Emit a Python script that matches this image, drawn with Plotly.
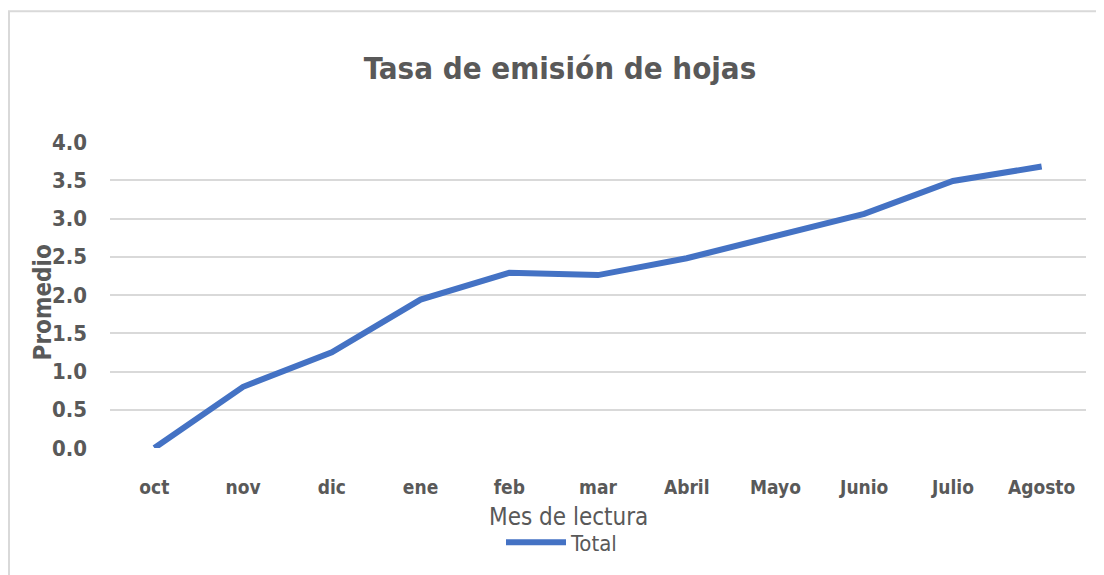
import plotly.graph_objects as go

months = ["oct", "nov", "dic", "ene", "feb", "mar", "Abril", "Mayo", "Junio", "Julio", "Agosto"]
promedio = [0.0, 0.80, 1.25, 1.94, 2.29, 2.26, 2.48, 2.78, 3.06, 3.49, 3.68]
y_ticks = [0.0, 0.5, 1.0, 1.5, 2.0, 2.5, 3.0, 3.5, 4.0]

OFF = 8  # browser default body margin
W, H = 1104 - OFF, 575 - OFF
L, R, T, B = 110 - OFF, 18, 142 - OFF, 122
pw, ph = W - L - R, H - T - B

def px_x(x):
    return (x - OFF - L) / pw

def px_y(y):
    return (H - B - (y - OFF)) / ph

FONT = "Liberation Sans Narrow, DejaVu Sans Condensed, Open Sans"
GRAY = "#595959"

fig = go.Figure()
fig.add_trace(go.Scatter(
    x=months, y=promedio, mode="lines", name="Total",
    line=dict(color="#4472C4", width=6),
))

fig.update_layout(
    width=W, height=H,
    margin=dict(l=L, r=R, t=T, b=B),
    paper_bgcolor="white", plot_bgcolor="white",
    font=dict(family=FONT, color=GRAY),
    title=dict(text="Tasa de emisión de hojas", x=px_x(560), xanchor="center",
               xref="paper", y=1 - (68 - OFF) / H, yanchor="middle",
               font=dict(size=31, color=GRAY, family=FONT, weight=700)),
    showlegend=True,
    legend=dict(orientation="h", x=px_x(562), xanchor="center", y=px_y(549), yanchor="middle",
                font=dict(size=22, color=GRAY, family=FONT), itemwidth=60,
                bgcolor="rgba(0,0,0,0)"),
    xaxis=dict(range=[-0.5, 10.5], showgrid=False, showline=False, zeroline=False,
               ticks="", tickfont=dict(size=19, color=GRAY, family=FONT, weight=700),
               ticklabelstandoff=26, fixedrange=True),
    yaxis=dict(range=[0, 4], tickvals=y_ticks, ticktext=[f"{v:.1f}" for v in y_ticks],
               showgrid=True, gridcolor="#d9d9d9", gridwidth=2, zeroline=False,
               showline=False, ticks="", tickfont=dict(size=22, color=GRAY, family=FONT, weight=700),
               ticklabelstandoff=22, fixedrange=True),
    annotations=[
        dict(text="Mes de lectura", xref="paper", yref="paper", x=px_x(568), y=px_y(523),
             xanchor="center", yanchor="middle", showarrow=False,
             font=dict(size=24, color=GRAY, family=FONT)),
        dict(text="Promedio", xref="paper", yref="paper", x=px_x(43), y=px_y(305),
             xanchor="center", yanchor="middle", showarrow=False, textangle=-90,
             font=dict(size=24, color=GRAY, family=FONT, weight=700)),
    ],
    shapes=[
        dict(type="rect", xref="paper", yref="paper",
             x0=px_x(9), x1=px_x(1120), y0=px_y(590), y1=px_y(9),
             line=dict(color="#d9d9d9", width=2), fillcolor="rgba(0,0,0,0)", layer="below"),
    ],
)

fig.write_html("out.html")
